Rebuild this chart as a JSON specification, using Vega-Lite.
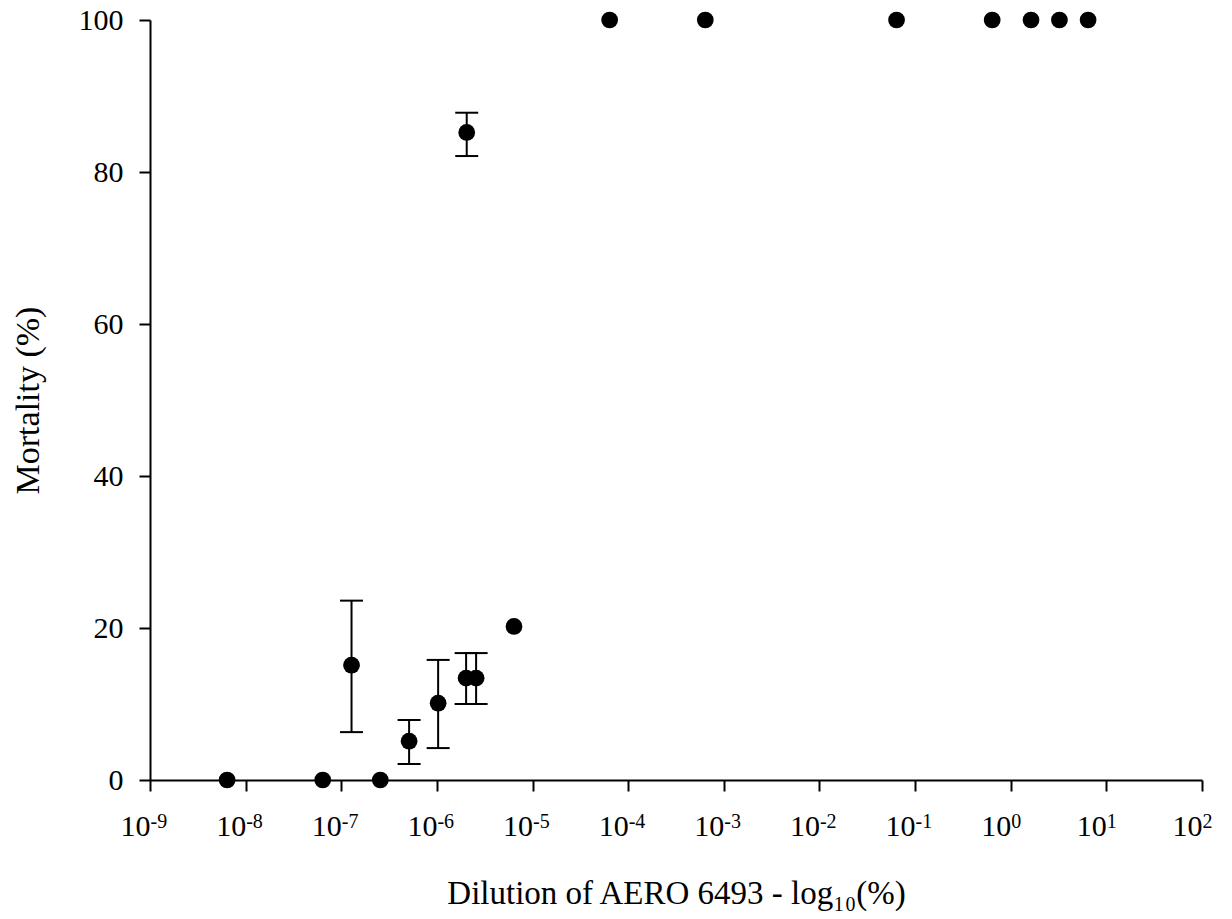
{
  "$schema": "https://vega.github.io/schema/vega-lite/v6.json",
  "width": 1052,
  "height": 760,
  "autosize": "none",
  "padding": {"left": 150, "top": 20, "right": 30, "bottom": 139},
  "background": "white",
  "config": {
    "font": "Liberation Serif",
    "view": {"stroke": null},
    "axis": {
      "grid": false,
      "domainColor": "black",
      "domainWidth": 2,
      "tickColor": "black",
      "tickWidth": 2,
      "labelColor": "black",
      "titleColor": "black",
      "labelFont": "Liberation Serif",
      "titleFont": "Liberation Serif",
      "titleFontWeight": "normal"
    }
  },
  "data": {
    "values": [
      {"dilution": 6.4e-9, "mortality": 0},
      {"dilution": 6.4e-8, "mortality": 0},
      {"dilution": 1.28e-7, "mortality": 15.1, "lo": 6.3, "hi": 23.6},
      {"dilution": 2.56e-7, "mortality": 0},
      {"dilution": 5.12e-7, "mortality": 5.1, "lo": 2.1, "hi": 7.9},
      {"dilution": 1.03e-6, "mortality": 10.1, "lo": 4.2, "hi": 15.8},
      {"dilution": 2.05e-6, "mortality": 85.2, "lo": 82.1, "hi": 87.8},
      {"dilution": 2.02e-6, "mortality": 13.4, "lo": 10.0, "hi": 16.7},
      {"dilution": 2.57e-6, "mortality": 13.4, "lo": 10.0, "hi": 16.7},
      {"dilution": 6.4e-6, "mortality": 20.2},
      {"dilution": 6.4e-5, "mortality": 100},
      {"dilution": 6.4e-4, "mortality": 100},
      {"dilution": 6.4e-2, "mortality": 100},
      {"dilution": 0.64, "mortality": 100},
      {"dilution": 1.63, "mortality": 100},
      {"dilution": 3.23, "mortality": 100},
      {"dilution": 6.44, "mortality": 100}
    ]
  },
  "layer": [
    {
      "encoding": {
        "x": {
          "field": "dilution",
          "type": "quantitative",
          "scale": {"type": "log", "domain": [1e-9, 100], "nice": false},
          "axis": {
            "orient": "bottom",
            "values": [1e-9, 1e-8, 1e-7, 1e-6, 1e-5, 1e-4, 1e-3, 1e-2, 1e-1, 1, 10, 100],
            "labelExpr": "'10'",
            "labelFontSize": 30,
            "labelAlign": "right",
            "labelPadding": 20,
            "labelFlush": false,
            "labelOverlap": false,
            "tickSize": 11,
            "title": "Dilution of AERO 6493 - log₁₀(%)",
            "titleFontSize": 33,
            "titlePadding": 36,
            "encode": {"labels": {"update": {"dx": {"signal": "datum.value < 0.5 ? 6 : 11"}}}}
          }
        }
      },
      "layer": [
        {
          "transform": [{"filter": "isValid(datum.lo)"}],
          "mark": {"type": "rule", "color": "black", "strokeWidth": 2},
          "encoding": {
            "y": {"field": "lo", "type": "quantitative", "title": "Mortality (%)", "scale": {"domain": [0, 100], "nice": false}},
            "y2": {"field": "hi"}
          }
        },
        {
          "transform": [{"filter": "isValid(datum.lo)"}],
          "mark": {"type": "tick", "orient": "horizontal", "color": "black", "thickness": 2, "size": 23, "opacity": 1},
          "encoding": {
            "y": {"field": "lo", "type": "quantitative", "title": "Mortality (%)", "scale": {"domain": [0, 100], "nice": false}}
          }
        },
        {
          "transform": [{"filter": "isValid(datum.hi)"}],
          "mark": {"type": "tick", "orient": "horizontal", "color": "black", "thickness": 2, "size": 23, "opacity": 1},
          "encoding": {
            "y": {"field": "hi", "type": "quantitative", "title": "Mortality (%)", "scale": {"domain": [0, 100], "nice": false}}
          }
        },
        {
          "mark": {"type": "circle", "size": 280, "color": "black", "opacity": 1},
          "encoding": {
            "y": {
              "field": "mortality",
              "type": "quantitative",
              "title": "Mortality (%)",
              "scale": {"domain": [0, 100], "nice": false},
              "axis": {
                "values": [0, 20, 40, 60, 80, 100],
                "labelFontSize": 30,
                "labelPadding": 16,
                "tickSize": 11,
                "titleFontSize": 34,
                "titlePadding": 33
              }
            }
          }
        }
      ]
    },
    {
      "mark": {"type": "point", "opacity": 0},
      "encoding": {
        "x": {
          "field": "dilution",
          "type": "quantitative",
          "scale": {"type": "log", "domain": [1e-9, 100], "nice": false},
          "axis": {
            "orient": "bottom",
            "values": [1e-9, 1e-8, 1e-7, 1e-6, 1e-5, 1e-4, 1e-3, 1e-2, 1e-1, 1, 10, 100],
            "labelExpr": "'' + round(log(datum.value) / LN10)",
            "labelFontSize": 20,
            "labelAlign": "left",
            "labelPadding": 20,
            "labelFlush": false,
            "labelOverlap": false,
            "tickSize": 11,
            "tickOpacity": 0,
            "domain": false,
            "title": null,
            "encode": {"labels": {"update": {"dx": {"signal": "datum.value < 0.5 ? 6 : 11"}}}}
          }
        },
        "y": {"field": "mortality", "type": "quantitative", "title": "Mortality (%)", "scale": {"domain": [0, 100], "nice": false}}
      }
    }
  ],
  "resolve": {"scale": {"x": "independent"}, "axis": {"x": "independent"}}
}
